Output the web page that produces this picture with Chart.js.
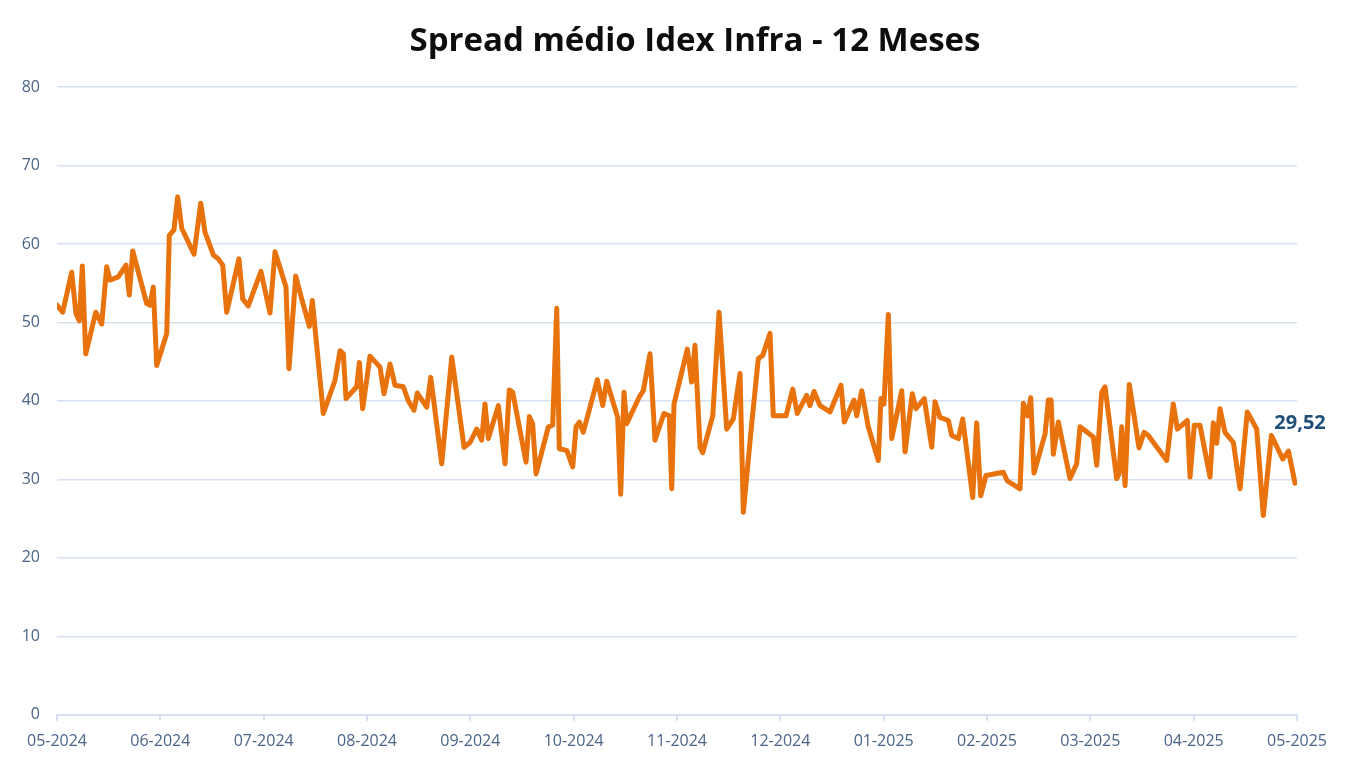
<!DOCTYPE html>
<html>
<head>
<meta charset="utf-8">
<title>Spread médio Idex Infra - 12 Meses</title>
<script src="https://cdn.jsdelivr.net/npm/chart.js@4.4.1/dist/chart.umd.min.js"></script>
<style>
  html, body { margin: 0; padding: 0; background: #ffffff; }
  #wrap { width: 1360px; height: 782px; }
</style>
</head>
<body>
<div id="wrap"><canvas id="spread"></canvas></div>
<script>
//chart title
var chartTitle = 'Spread médio Idex Infra - 12 Meses';

//month labels for the x axis (one per tick, 0..12)
var monthLabels = ['05-2024','06-2024','07-2024','08-2024','09-2024','10-2024','11-2024',
                   '12-2024','01-2025','02-2025','03-2025','04-2025','05-2025'];

//y axis ticks
var yTicks = [0, 10, 20, 30, 40, 50, 60, 70, 80];

//position of each point in months since 05-2024
var monthPos = [
  0.00, 0.055, 0.142, 0.184, 0.216, 0.245, 0.278, 0.375, 0.433, 0.481,
  0.513, 0.593, 0.668, 0.700, 0.733, 0.868, 0.900, 0.932, 0.965, 1.062,
  1.087, 1.132, 1.168, 1.207, 1.326, 1.391, 1.432, 1.513, 1.561, 1.604,
  1.642, 1.761, 1.797, 1.851, 1.974, 2.061, 2.110, 2.216, 2.245, 2.310,
  2.368, 2.442, 2.471, 2.577, 2.690, 2.739, 2.771, 2.797, 2.900, 2.926,
  2.958, 3.029, 3.126, 3.165, 3.223, 3.271, 3.351, 3.400, 3.455, 3.487,
  3.578, 3.617, 3.723, 3.820, 3.939, 3.997, 4.062, 4.110, 4.142, 4.174,
  4.271, 4.336, 4.377, 4.410, 4.539, 4.571, 4.603, 4.636, 4.755, 4.797,
  4.836, 4.861, 4.933, 4.991, 5.023, 5.055, 5.093, 5.229, 5.281, 5.320,
  5.426, 5.455, 5.487, 5.513, 5.635, 5.674, 5.739, 5.787, 5.874, 5.926,
  5.949, 5.971, 6.100, 6.142, 6.174, 6.223, 6.249, 6.346, 6.407, 6.481,
  6.545, 6.610, 6.642, 6.723, 6.787, 6.830, 6.900, 6.932, 7.055, 7.120,
  7.164, 7.255, 7.287, 7.326, 7.384, 7.481, 7.587, 7.619, 7.713, 7.739,
  7.788, 7.851, 7.948, 7.974, 8.003, 8.045, 8.078, 8.175, 8.207, 8.277,
  8.313, 8.393, 8.465, 8.497, 8.545, 8.626, 8.659, 8.723, 8.765, 8.862,
  8.900, 8.939, 8.990, 9.158, 9.197, 9.320, 9.352, 9.394, 9.423, 9.455,
  9.562, 9.594, 9.620, 9.642, 9.690, 9.803, 9.868, 9.900, 10.029, 10.062,
  10.110, 10.142, 10.255, 10.278, 10.304, 10.336, 10.377, 10.471, 10.520, 10.561,
  10.739, 10.803, 10.842, 10.939, 10.965, 11.006, 11.061, 11.158, 11.190, 11.223,
  11.255, 11.303, 11.384, 11.449, 11.519, 11.610, 11.674, 11.752, 11.862, 11.917,
  11.981
];

//spread values (same order as monthPos)
var spreadValues = [
  52.2, 51.3, 56.4, 51.1, 50.2, 57.2, 46.0, 51.3, 49.8, 57.1,
  55.4, 55.8, 57.3, 53.5, 59.1, 52.4, 52.2, 54.5, 44.5, 48.6,
  61.1, 61.8, 66.0, 62.0, 58.7, 65.2, 61.5, 58.6, 58.1, 57.3,
  51.3, 58.1, 53.0, 52.1, 56.5, 51.2, 59.0, 54.5, 44.1, 55.9,
  53.0, 49.5, 52.8, 38.4, 42.6, 46.4, 46.0, 40.3, 41.8, 44.9,
  39.0, 45.7, 44.3, 40.9, 44.7, 42.0, 41.8, 40.0, 38.8, 41.0,
  39.2, 43.0, 32.0, 45.6, 34.1, 34.7, 36.4, 35.0, 39.6, 35.2,
  39.4, 32.0, 41.4, 41.1, 32.2, 38.0, 37.1, 30.7, 36.7, 36.9,
  51.8, 33.9, 33.7, 31.6, 36.7, 37.3, 36.0, 42.7, 39.4, 42.5,
  37.9, 28.1, 41.1, 37.1, 40.5, 41.3, 46.0, 35.0, 38.4, 38.1,
  28.8, 39.6, 46.6, 42.4, 47.1, 34.1, 33.4, 38.1, 51.3, 36.4,
  37.7, 43.5, 25.8, 37.1, 45.4, 45.8, 48.6, 38.1, 38.1, 41.5,
  38.4, 40.7, 39.4, 41.2, 39.4, 38.6, 42.0, 37.3, 40.1, 38.1,
  41.3, 36.7, 32.4, 40.3, 39.6, 51.0, 35.2, 41.3, 33.5, 40.9,
  39.0, 40.3, 34.1, 39.9, 37.9, 37.5, 35.6, 35.2, 37.7, 27.7,
  37.2, 27.9, 30.5, 30.9, 29.8, 28.8, 39.7, 38.1, 40.4, 30.8,
  35.8, 40.1, 40.1, 33.2, 37.3, 30.1, 32.0, 36.7, 35.4, 31.8,
  41.1, 41.8, 30.1, 30.7, 36.7, 29.2, 42.1, 34.0, 36.0, 35.6,
  32.4, 39.6, 36.4, 37.5, 30.3, 36.9, 36.9, 30.3, 37.2, 34.6,
  39.0, 36.0, 34.7, 28.8, 38.6, 36.4, 25.4, 35.6, 32.6, 33.6,
  29.52
];

//build {x,y} points for the linear x scale
var points = [];
for (var i = 0; i < monthPos.length; i++)
  points.push({x: monthPos[i], y: spreadValues[i]});

//title drawn by hand so it can sit where the original one is (a bit right of center)
var titlePlugin = {
  id: 'titlePlugin',
  afterDraw: function(chart) {
    var ctx = chart.ctx;
    ctx.save();
    ctx.font = 'bold 33px "Open Sans"';
    ctx.fillStyle = '#0d0d0d';
    ctx.textAlign = 'center';
    ctx.textBaseline = 'middle';
    ctx.fillText(chartTitle, chart.width / 2 + 15, 42);
    ctx.restore();
  }
};

//writes the last value (pt-BR decimal comma) above the end of the line
var lastValueLabel = {
  id: 'lastValueLabel',
  afterDatasetsDraw: function(chart) {
    var meta = chart.getDatasetMeta(0);
    var last = meta.data[meta.data.length - 1];
    var v = spreadValues[spreadValues.length - 1];
    var ctx = chart.ctx;
    ctx.save();
    ctx.font = 'bold 20px "Open Sans"';
    ctx.fillStyle = '#1F4E79';
    ctx.textAlign = 'center';
    ctx.textBaseline = 'middle';
    ctx.fillText(v.toFixed(2).replace('.', ','), last.x + 5, last.y - 60);
    ctx.restore();
  }
};

var labelColor = '#4A6488';
var gridColor = '#D7E1F2';

new Chart(document.getElementById('spread'), {
  type: 'line',
  data: {
    datasets: [{
      label: 'Spread médio',
      data: points,
      borderColor: '#E8720C',
      borderWidth: 5,
      borderJoinStyle: 'round',
      borderCapStyle: 'round',
      pointRadius: 0,
      tension: 0,
      fill: false
    }]
  },
  options: {
    responsive: true,
    maintainAspectRatio: false,
    animation: false,
    layout: {padding: {left: 0, right: 63, top: 87, bottom: 20}},
    plugins: {
      legend: {display: false},
      tooltip: {enabled: false},
      title: {display: false}
    },
    scales: {
      x: {
        type: 'linear',
        min: 0,
        max: 12,
        border: {display: true, color: gridColor, width: 2},
        grid: {drawOnChartArea: false, drawTicks: true, tickLength: 6, color: gridColor, lineWidth: 2},
        ticks: {
          stepSize: 1,
          autoSkip: false,
          maxRotation: 0,
          padding: 11,
          color: labelColor,
          font: {family: '"Open Sans"', size: 16},
          callback: function(value) { return monthLabels[value]; }
        }
      },
      y: {
        min: yTicks[0],
        max: yTicks[yTicks.length - 1],
        afterFit: function(scale) { scale.width = 57; },
        border: {display: false},
        grid: {drawTicks: false, color: gridColor, lineWidth: 1.5},
        ticks: {
          stepSize: 10,
          padding: 17,
          color: labelColor,
          font: {family: '"Open Sans"', size: 16}
        }
      }
    }
  },
  plugins: [titlePlugin, lastValueLabel]
});
</script>
</body>
</html>
